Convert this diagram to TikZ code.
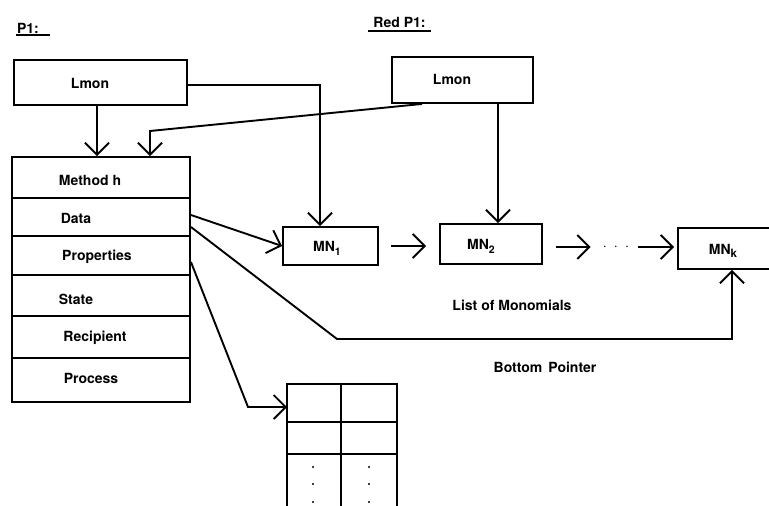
\documentclass[tikz,border=0pt]{standalone}
\usepackage{fontspec}
\setmainfont{TeX Gyre Heros}
\usetikzlibrary{arrows.meta}
\begin{document}
\begin{tikzpicture}[x=1pt,y=-1pt,
  box/.style={draw, line width=1.9pt, inner sep=0pt},
  txt/.style={inner sep=0pt, font=\fontsize{14}{16}\selectfont\bfseries},
  conn/.style={line width=1.9pt},
  arr/.style={conn, -{Straight Barb[length=12pt,width=24pt,line width=1.9pt]}},
  gridline/.style={line width=1.7pt}]
\useasboundingbox (0,0) rectangle (769,506);

% headings
\node[txt] (hP1) at (28,28) {P1:};
\draw[line width=1.2pt] (16,35) -- (50,35);
\node[txt] (hRed) at (399.5,22) {Red P1:};
\draw[line width=1.2pt] (368,31) -- (431,31);

% Lmon boxes
\node[box, minimum width=173pt, minimum height=45pt] (lmonA) at (100.5,82.5) {};
\node[txt] (tlmonA) at (90,83) {Lmon};
\node[box, minimum width=141pt, minimum height=46pt] (lmonB) at (462.5,80) {};
\node[txt] (tlmonB) at (452,79) {Lmon};

% record table
\node[box, minimum width=178pt, minimum height=41pt] (method) at (101,177.5) {};
\node[box, minimum width=178pt, minimum height=38pt] (data) at (101,217) {};
\node[box, minimum width=178pt, minimum height=39pt] (props) at (101,255.5) {};
\node[box, minimum width=178pt, minimum height=41pt] (state) at (101,295.5) {};
\node[box, minimum width=178pt, minimum height=42pt] (recip) at (101,337) {};
\node[box, minimum width=178pt, minimum height=44pt] (proc) at (101,380) {};
\node[txt] (tmethod) at (90,180) {Method h};
\node[txt] (tdata) at (76,218) {Data};
\node[txt] (tprops) at (97,257) {Properties};
\node[txt] (tstate) at (76,299) {State};
\node[txt] (trecip) at (95,338) {Recipient};
\node[txt] (tproc) at (91,378) {Process};

% monomial list
\node[box, minimum width=95pt, minimum height=38pt] (mn1) at (330.5,246) {};
\node[txt] (tmn1) at (327,248) {MN\raisebox{-4pt}{\fontsize{10.5}{12}\selectfont 1}};
\node[box, minimum width=102pt, minimum height=40pt] (mn2) at (491,244) {};
\node[txt] (tmn2) at (481,246) {MN\raisebox{-4pt}{\fontsize{10.5}{12}\selectfont 2}};
\node[box, minimum width=122pt, minimum height=41pt] (mnk) at (739,248.5) {};
\node[txt] (tmnk) at (723,251) {MN\raisebox{-3pt}{\fontsize{11.5}{12}\selectfont k}};
\node[txt, minimum width=24pt] (dots) at (616,247) {$\cdot\;\cdot\;\cdot$};

\node[txt] (tlist) at (512,305) {List of Monomials};
\node[txt] (tbottom) at (545,367) {Bottom\hspace{6pt}Pointer};

% grid
\draw[gridline] (287,520) -- (287,384) -- (397,384) -- (397,520);
\draw[gridline] (341,384) -- (341,520);
\draw[gridline] (287,422) -- (397,422);
\draw[gridline] (287,454) -- (397,454);
\foreach \yy in {467,484,502} {
  \fill (313,\yy) circle (1.1pt);
  \fill (369,\yy) circle (1.1pt);
}
\coordinate (gridin) at (287,407);

% connectors
\coordinate (bendB) at (150,131);
\coordinate (bp) at (337,339);
\coordinate (pbend) at (248,407);

\draw[arr] ([xshift=-3.5pt]lmonA.south) -- ([xshift=-3.5pt]lmonA.south |- method.north);
\draw[arr] ([xshift=-40.5pt]lmonB.south) -- (bendB) -- (bendB |- method.north);
\draw[arr] ([yshift=-2.5pt]lmonA.east) -| ([xshift=-10.5pt]mn1.north);
\draw[arr] ([xshift=35.5pt]lmonB.south) -- ([xshift=35.5pt]lmonB.south |- mn2.north);

\draw[arr] ([yshift=2pt]data.east) -- (mn1.west);
\draw[arr, shorten <=12pt, shorten >=13pt] (mn1.east) -- (mn2.west |- mn1.east);
\draw[arr, shorten <=13pt, shorten >=12pt] (mn2.east |- dots) -- (dots.west);
\draw[arr, shorten <=9pt, shorten >=3pt] (dots.east) -- (mnk.west |- dots);

\draw[arr] ([yshift=-10pt]data.east) -- (bp) -| ([xshift=-7pt]mnk.south);
\draw[arr] ([yshift=-6.5pt]props.east) -- (pbend) -- (gridin);
\end{tikzpicture}
\end{document}
